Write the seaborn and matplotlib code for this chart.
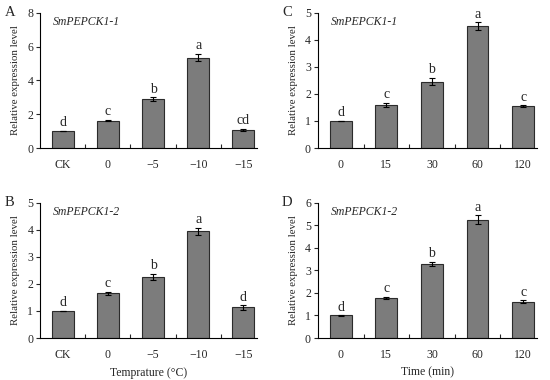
import numpy as np
import pandas as pd
import matplotlib
matplotlib.use("Agg")
import matplotlib.pyplot as plt
import seaborn as sns

temp_labels = ["CK", "0", "\u22125", "\u221210", "\u221215"]
time_labels = ["0", "15", "30", "60", "120"]

a_vals = [1.0, 1.62, 2.9, 5.35, 1.08]
a_err = [0.02, 0.05, 0.1, 0.22, 0.07]
a_sig = ["d", "c", "b", "a", "cd"]

b_vals = [1.0, 1.65, 2.25, 3.95, 1.13]
b_err = [0.01, 0.06, 0.12, 0.14, 0.08]
b_sig = ["d", "c", "b", "a", "d"]

c_vals = [1.0, 1.6, 2.46, 4.5, 1.54]
c_err = [0.01, 0.07, 0.13, 0.15, 0.04]
c_sig = ["d", "c", "b", "a", "c"]

d_vals = [1.0, 1.78, 3.28, 5.25, 1.62]
d_err = [0.01, 0.06, 0.1, 0.2, 0.05]
d_sig = ["d", "c", "b", "a", "c"]

sns.set_style("ticks")
plt.rcParams["font.family"] = ["Liberation Serif", "DejaVu Serif"]

fig = plt.figure(figsize=(5.5, 3.8), dpi=100)

def panel(rect, labels, vals, err, sig, gene, ymax, ystep, letter, xlabel=None):
    ax = fig.add_axes(rect)
    df = pd.DataFrame({"cat": labels, "val": vals})
    sns.barplot(data=df, x="cat", y="val", ax=ax, color="#7c7c7c",
                edgecolor="#2b2b2b", linewidth=0.8, width=0.48, saturation=1)
    ax.errorbar(np.arange(len(vals)), vals, yerr=err, fmt="none",
                ecolor="black", elinewidth=0.8, capsize=2.5, capthick=0.8)
    off = ymax * 0.012
    for i, (v, e, s) in enumerate(zip(vals, err, sig)):
        ax.text(i, v + e + off, s, ha="center", va="bottom", fontsize=10)
    ax.set_xlim(-0.5, 4.3)
    ax.set_ylim(0, ymax)
    ticks = np.arange(0, ymax + 0.01, ystep)
    ax.set_yticks(ticks)
    ax.set_yticklabels([f"{t:g}" for t in ticks], fontsize=8.5)
    ax.set_xticks(np.arange(len(labels)))
    ax.set_xticklabels(labels, fontsize=8.5)
    ax.tick_params(axis="x", length=0, pad=8)
    ax.tick_params(axis="y", length=3, width=0.8, direction="out", pad=2)
    ax.set_xticks(np.arange(len(labels) - 1) + 0.5, minor=True)
    ax.tick_params(axis="x", which="minor", length=3, width=0.8, direction="in")
    ax.set_ylabel("Relative expression level", fontsize=7.8, labelpad=5)
    ax.set_xlabel(xlabel if xlabel else "", fontsize=8.5, labelpad=4)
    sns.despine(ax=ax)
    for sp in ["left", "bottom"]:
        ax.spines[sp].set_linewidth(0.8)
        ax.spines[sp].set_color("black")
    ax.text(0.06, 0.93, gene, transform=ax.transAxes, fontsize=8.5,
            style="italic", ha="left", va="center")
    ax.text(-0.14, 1.0, letter, transform=ax.transAxes, fontsize=10.5,
            ha="center", va="center")
    return ax

panel([0.073, 0.6105, 0.394, 0.3555], temp_labels, a_vals, a_err, a_sig,
      "SmPEPCK1-1", 8, 2, "A")
panel([0.578, 0.6105, 0.398, 0.3555], time_labels, c_vals, c_err, c_sig,
      "SmPEPCK1-1", 5, 1, "C")
panel([0.073, 0.1105, 0.394, 0.3555], temp_labels, b_vals, b_err, b_sig,
      "SmPEPCK1-2", 5, 1, "B", "Temprature (\u00b0C)")
panel([0.578, 0.1105, 0.398, 0.3555], time_labels, d_vals, d_err, d_sig,
      "SmPEPCK1-2", 6, 1, "D", "Time (min)")

fig.savefig("out.png", dpi=100)
